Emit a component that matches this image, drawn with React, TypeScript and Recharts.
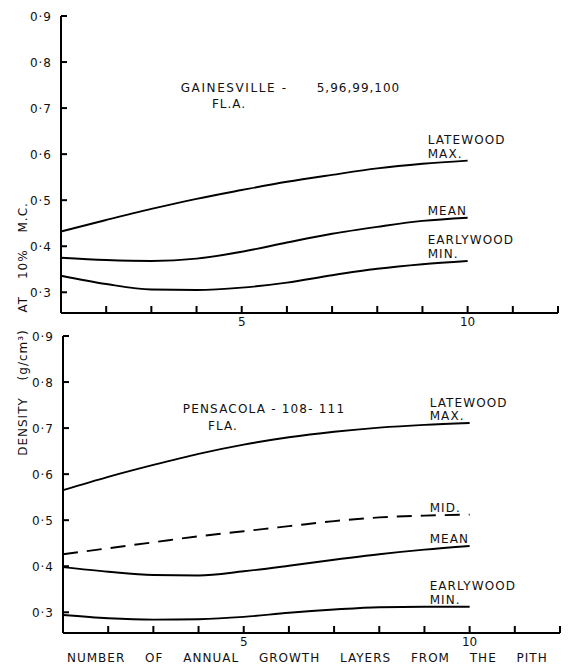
import React from 'react';
import { LineChart, Line, XAxis, YAxis, ReferenceDot } from 'recharts';

const LAYERS = [1, 2, 3, 4, 5, 6, 7, 8, 9, 10];

const GAINESVILLE_LATEWOOD = [0.432, 0.457, 0.481, 0.503, 0.522, 0.540, 0.555, 0.569, 0.579, 0.586];
const GAINESVILLE_MEAN = [0.375, 0.370, 0.368, 0.373, 0.388, 0.408, 0.427, 0.442, 0.455, 0.462];
const GAINESVILLE_EARLYWOOD = [0.336, 0.318, 0.306, 0.305, 0.310, 0.321, 0.337, 0.351, 0.361, 0.368];

const PENSACOLA_LATEWOOD = [0.565, 0.594, 0.620, 0.644, 0.664, 0.680, 0.692, 0.701, 0.707, 0.711];
const PENSACOLA_MID = [0.426, 0.439, 0.452, 0.465, 0.476, 0.487, 0.498, 0.506, 0.510, 0.512];
const PENSACOLA_MEAN = [0.398, 0.388, 0.381, 0.380, 0.389, 0.401, 0.414, 0.426, 0.436, 0.444];
const PENSACOLA_EARLYWOOD = [0.294, 0.287, 0.284, 0.285, 0.290, 0.299, 0.306, 0.311, 0.312, 0.312];

const Y_TICKS = [0.3, 0.4, 0.5, 0.6, 0.7, 0.8, 0.9];
const X_TICKS = [2, 3, 4, 5, 6, 7, 8, 9, 10, 11, 12];
const X_LABELED = [5, 10];
const X_DOMAIN = [1, 12];
const Y_DOMAIN = [0.255, 0.9];

const Y_TITLE = 'DENSITY (g/cm\u00B3) AT 10% M.C.';
const X_TITLE = 'NUMBER OF ANNUAL GROWTH LAYERS FROM THE PITH';

const FONT = '"DejaVu Sans", sans-serif';

const topData = LAYERS.map((x, i) => ({
  x,
  late: GAINESVILLE_LATEWOOD[i],
  mean: GAINESVILLE_MEAN[i],
  early: GAINESVILLE_EARLYWOOD[i],
}));

const bottomData = LAYERS.map((x, i) => ({
  x,
  late: PENSACOLA_LATEWOOD[i],
  mid: PENSACOLA_MID[i],
  mean: PENSACOLA_MEAN[i],
  early: PENSACOLA_EARLYWOOD[i],
}));

const fmtY = (v: number) => v.toFixed(1).replace('.', '\u00B7');

const YTick = (props: any) => {
  const { x, y, payload } = props;
  return (
    <g>
      <line x1={x} y1={y} x2={x + 6} y2={y} stroke="#000" strokeWidth={2} />
      <text x={x - 9} y={y + 4.5} textAnchor="end" fontSize={12} letterSpacing={1} fill="#111" fontFamily={FONT}>
        {fmtY(payload.value)}
      </text>
    </g>
  );
};

const XTick = (props: any) => {
  const { x, y, payload } = props;
  return (
    <g>
      <line x1={x} y1={y} x2={x} y2={y - 7} stroke="#000" strokeWidth={2} />
      {X_LABELED.includes(payload.value) ? (
        <text x={x} y={y + 13} textAnchor="middle" fontSize={12} fill="#111" fontFamily={FONT}>
          {payload.value}
        </text>
      ) : null}
    </g>
  );
};

const txt = (lines: string[], dx: number, dy: number[], size = 12, spacing = 1.1) => (p: any) => (
  <g>
    {lines.map((l, i) => (
      <text key={i} x={p.cx + dx} y={p.cy + dy[i]} fontSize={size} letterSpacing={spacing} fill="#111" fontFamily={FONT}>
        {l}
      </text>
    ))}
  </g>
);

const endLabel = (x: number, y: number, lines: string[]) => (
  <ReferenceDot
    x={x}
    y={y}
    r={0}
    ifOverflow="visible"
    shape={txt(lines, -40, lines.length === 2 ? [-16.5, -3] : [-3])}
  />
);

const last = (arr: number[]) => arr[arr.length - 1];
const lastX = LAYERS[LAYERS.length - 1];

const axisLine = { stroke: '#000', strokeWidth: 2 };

export default function App() {
  return (
    <div style={{ position: 'relative', width: 560, height: 656 }}>
      <div style={{ position: 'absolute', left: 0, top: 0 }}>
        <LineChart
          width={558}
          height={330}
          data={topData}
          margin={{ top: 8, right: 8, left: 0, bottom: 0 }}
          style={{ overflow: 'visible' }}
        >
          <XAxis
            dataKey="x"
            type="number"
            domain={X_DOMAIN}
            ticks={X_TICKS}
            height={25}
            tickSize={0}
            tickMargin={0}
            tickLine={false}
            axisLine={axisLine}
            tick={<XTick />}
            interval={0}
          />
          <YAxis
            type="number"
            domain={Y_DOMAIN}
            ticks={Y_TICKS}
            width={53}
            tickSize={0}
            tickMargin={0}
            tickLine={false}
            axisLine={axisLine}
            tick={<YTick />}
            interval={0}
          />
          <Line dataKey="late" type="monotone" stroke="#000" strokeWidth={1.9} dot={false} isAnimationActive={false} />
          <Line dataKey="mean" type="monotone" stroke="#000" strokeWidth={1.9} dot={false} isAnimationActive={false} />
          <Line dataKey="early" type="monotone" stroke="#000" strokeWidth={1.9} dot={false} isAnimationActive={false} />
          {endLabel(lastX, last(GAINESVILLE_LATEWOOD), ['LATEWOOD', 'MAX.'])}
          {endLabel(lastX, last(GAINESVILLE_MEAN), ['MEAN'])}
          {endLabel(lastX, last(GAINESVILLE_EARLYWOOD), ['EARLYWOOD', 'MIN.'])}
          <ReferenceDot x={3.65} y={0.735} r={0} ifOverflow="visible" shape={txt(['GAINESVILLE -'], 0, [0], 12, 1.6)} />
          <ReferenceDot x={6.66} y={0.735} r={0} ifOverflow="visible" shape={txt(['5,96,99,100'], 0, [0], 12, 1)} />
          <ReferenceDot x={4.34} y={0.7} r={0} ifOverflow="visible" shape={txt(['FL.A.'], 0, [0], 12, 1)} />
        </LineChart>
      </div>
      <div style={{ position: 'absolute', left: 0, top: 318 }}>
        <LineChart
          width={560}
          height={338}
          data={bottomData}
          margin={{ top: 10, right: 8, left: 0, bottom: 0 }}
          style={{ overflow: 'visible' }}
        >
          <XAxis
            dataKey="x"
            type="number"
            domain={X_DOMAIN}
            ticks={X_TICKS}
            height={31}
            tickSize={0}
            tickMargin={0}
            tickLine={false}
            axisLine={axisLine}
            tick={<XTick />}
            interval={0}
            label={{
              content: (p: any) => (
                <text
                  x={p.viewBox.x + 4}
                  y={p.viewBox.y + p.viewBox.height - 2}
                  fontSize={12}
                  letterSpacing={1}
                  wordSpacing={15}
                  fill="#111"
                  fontFamily={FONT}
                >
                  {X_TITLE}
                </text>
              ),
            }}
          />
          <YAxis
            type="number"
            domain={Y_DOMAIN}
            ticks={Y_TICKS}
            width={55}
            tickSize={0}
            tickMargin={0}
            tickLine={false}
            axisLine={axisLine}
            tick={<YTick />}
            interval={0}
          />
          <Line dataKey="late" type="monotone" stroke="#000" strokeWidth={1.9} dot={false} isAnimationActive={false} />
          <Line dataKey="mid" type="monotone" stroke="#000" strokeWidth={1.9} strokeDasharray="15 9" dot={false} isAnimationActive={false} />
          <Line dataKey="mean" type="monotone" stroke="#000" strokeWidth={1.9} dot={false} isAnimationActive={false} />
          <Line dataKey="early" type="monotone" stroke="#000" strokeWidth={1.9} dot={false} isAnimationActive={false} />
          {endLabel(lastX, last(PENSACOLA_LATEWOOD), ['LATEWOOD', 'MAX.'])}
          {endLabel(lastX, last(PENSACOLA_MID), ['MID.'])}
          {endLabel(lastX, last(PENSACOLA_MEAN), ['MEAN'])}
          {endLabel(lastX, last(PENSACOLA_EARLYWOOD), ['EARLYWOOD', 'MIN.'])}
          <ReferenceDot x={3.65} y={0.733} r={0} ifOverflow="visible" shape={txt(['PENSACOLA  -  108- 111'], 0, [0], 12, 1.2)} />
          <ReferenceDot x={4.21} y={0.696} r={0} ifOverflow="visible" shape={txt(['FLA.'], 0, [0], 12, 1)} />
        </LineChart>
      </div>
      <svg
        width={40}
        height={656}
        style={{ position: 'absolute', left: 0, top: 0, pointerEvents: 'none', overflow: 'visible' }}
      >
        <text
          x={19}
          y={321}
          transform="rotate(-90 19 321)"
          textAnchor="middle"
          fontSize={12}
          letterSpacing={1}
          wordSpacing={12}
          fill="#111"
          fontFamily={FONT}
        >
          {Y_TITLE}
        </text>
      </svg>
    </div>
  );
}
